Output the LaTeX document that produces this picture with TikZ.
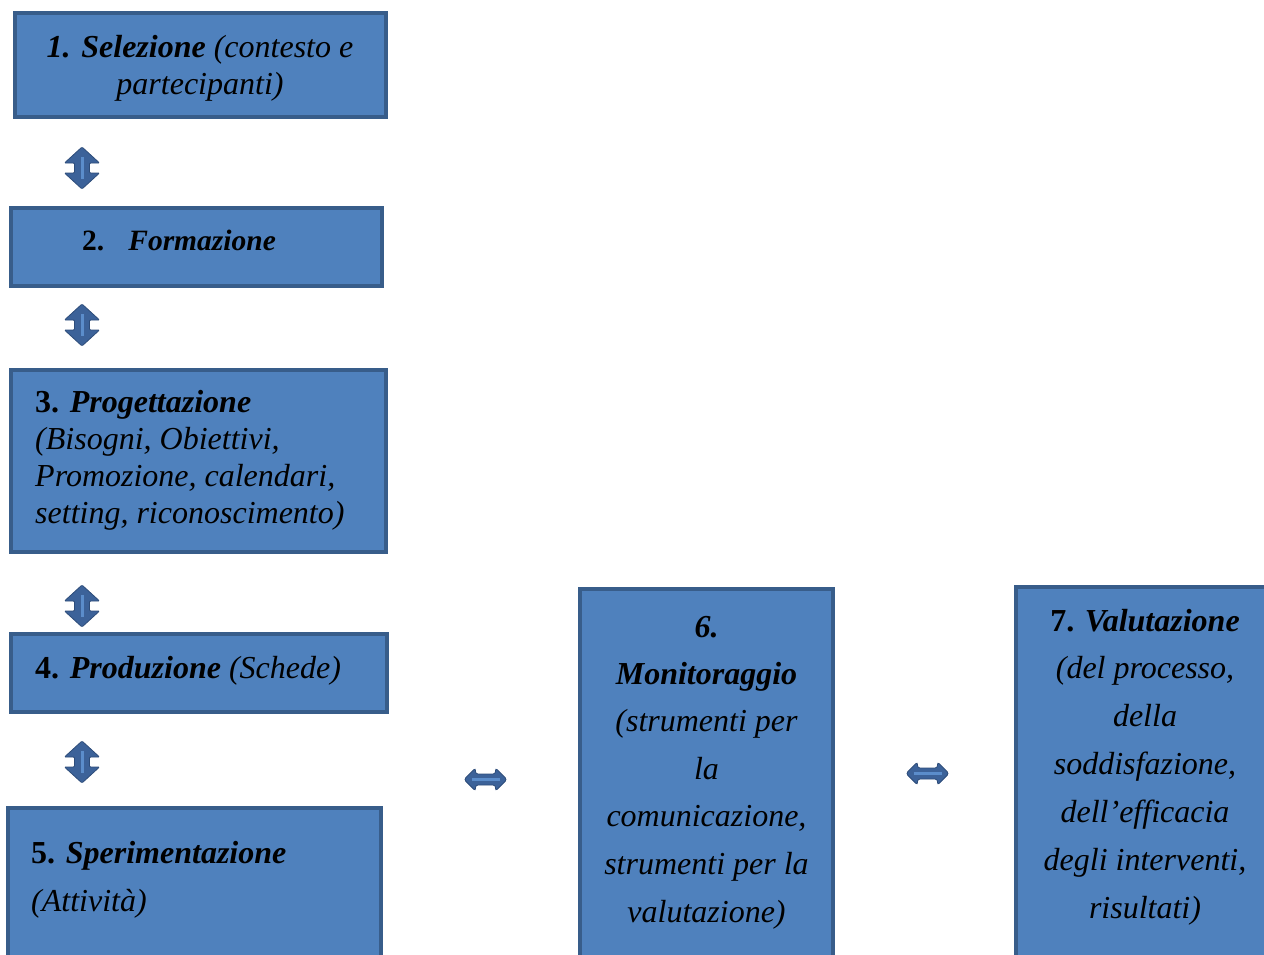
\documentclass[tikz,border=0pt]{standalone}
\usepackage{fontspec}
\setmainfont{Liberation Serif}
\definecolor{boxfill}{HTML}{4F81BD}
\definecolor{boxline}{HTML}{385D8A}
\definecolor{arrfill}{HTML}{3C6299}
\definecolor{arrline}{HTML}{2E4D7A}
\definecolor{arrin}{HTML}{5B8DCB}
\newcommand{\updig}[1]{\textup{\textbf{#1}}}
\begin{document}
\begin{tikzpicture}[x=1pt,y=-1pt,
  box/.style={draw=boxline,fill=boxfill,line width=4pt,inner sep=0pt},
  txt/.style={inner sep=0pt,font=\fontsize{32}{37}\selectfont\itshape},
  vdarrow/.pic={
    \fill[arrfill,draw=arrline,line width=0.8pt,rounded corners=1pt]
      (0,-21) -- (17.5,-5) -- (7.5,-5) -- (7.5,5) -- (17.5,5) -- (0,21)
      -- (-17.5,5) -- (-7.5,5) -- (-7.5,-5) -- (-17.5,-5) -- cycle;
    \draw[arrin,line width=3pt] (0,-11) -- (0,11);
  },
  hdarrow/.pic={
    \fill[arrfill,draw=arrline,line width=0.8pt,rounded corners=2.5pt]
      (-21.5,0) -- (-10,-11.5) -- (-10,-5.5) -- (10,-5.5) -- (10,-11.5) -- (21.5,0)
      -- (10,11.5) -- (10,5.5) -- (-10,5.5) -- (-10,11.5) -- cycle;
    \draw[arrin,line width=3pt] (-14,0) -- (14,0);
  }]
\useasboundingbox (0,0) rectangle (1264,954);
\clip (0,0) rectangle (1264,954);
% boxes
\node[box,minimum width=371pt,minimum height=104pt] (b1) at (200.5,65) {};
\node[box,minimum width=371pt,minimum height=78pt] (b2) at (196.5,247) {};
\node[box,minimum width=375pt,minimum height=182pt] (b3) at (198.5,461) {};
\node[box,minimum width=376pt,minimum height=78pt] (b4) at (199,673) {};
\node[box,minimum width=373pt,minimum height=170pt] (b5) at (194.5,893) {};
\node[box,minimum width=253pt,minimum height=400pt] (b6) at (706.5,789) {};
\node[box,minimum width=258pt,minimum height=400pt] (b7) at (1145,787) {};
% arrows
\pic at (82,168) {vdarrow};
\pic at (82,325) {vdarrow};
\pic at (82,606) {vdarrow};
\pic at (82,762) {vdarrow};
\pic at (485.5,779.5) {hdarrow};
\pic at (927.5,773.5) {hdarrow};
% texts box 1
\node[txt,anchor=base] (t1a) at (200,57.5) {\textbf{1. Selezione} (contesto e};
\node[txt,anchor=base] (t1b) at (200,94.5) {partecipanti)};
% box 2
\node[txt,anchor=base west,font=\fontsize{29.5}{34}\selectfont\itshape] (t2a) at (82,250) {\updig{2.}\hspace{24pt}\textbf{Formazione}};
% box 3
\node[txt,anchor=base west] (t3a) at (35,412) {\updig{3.} \textbf{Progettazione}};
\node[txt,anchor=base west] (t3b) at (35,449) {(Bisogni, Obiettivi,};
\node[txt,anchor=base west] (t3c) at (35,486) {Promozione, calendari,};
\node[txt,anchor=base west] (t3d) at (35,523) {setting, riconoscimento)};
% box 4
\node[txt,anchor=base west] (t4a) at (35,678) {\updig{4.} \textbf{Produzione} (Schede)};
% box 5
\node[txt,anchor=base west] (t5a) at (31,863) {\updig{5.} \textbf{Sperimentazione}};
\node[txt,anchor=base west] (t5b) at (31,911) {(Attività)};
% box 6
\node[txt,anchor=base] (t6a) at (706.5,637) {\textbf{6.}};
\node[txt,anchor=base] (t6b) at (706.5,684) {\textbf{Monitoraggio}};
\node[txt,anchor=base] (t6c) at (706.5,731) {(strumenti per};
\node[txt,anchor=base] (t6d) at (706.5,779) {la};
\node[txt,anchor=base] (t6e) at (706.5,826) {comunicazione,};
\node[txt,anchor=base] (t6f) at (706.5,874) {strumenti per la};
\node[txt,anchor=base] (t6g) at (706.5,922) {valutazione)};
% box 7
\node[txt,anchor=base] (t7a) at (1145,631) {\updig{7.} \textbf{Valutazione}};
\node[txt,anchor=base] (t7b) at (1145,678) {(del processo,};
\node[txt,anchor=base] (t7c) at (1145,726) {della};
\node[txt,anchor=base] (t7d) at (1145,774) {soddisfazione,};
\node[txt,anchor=base] (t7e) at (1145,822) {dell’efficacia};
\node[txt,anchor=base] (t7f) at (1145,870) {degli interventi,};
\node[txt,anchor=base] (t7g) at (1145,918) {risultati)};
\end{tikzpicture}
\end{document}
